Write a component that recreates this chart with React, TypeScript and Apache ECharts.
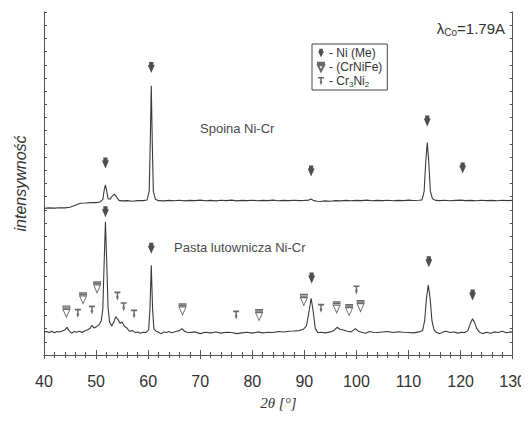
import React, { useEffect, useRef } from "react";
import * as echarts from "echarts";

// 2θ [°] vs intensity (offset units)
const spoinaData: [number, number][] = [
  [40, 11.12], [41, 11.15], [42, 11.13], [43, 11.16], [44, 11.15], [45, 11.2], [46, 11.35], [47, 11.5],
  [48, 11.52], [49, 11.55], [50, 11.55], [50.8, 11.6], [51.3, 11.8], [51.6, 12.6], [51.8, 12.9], [52.0, 12.5],
  [52.3, 11.85], [52.7, 11.8], [53.1, 12.05], [53.5, 12.2], [53.9, 12.0], [54.4, 11.72], [55, 11.68], [56, 11.7],
  [57, 11.66], [58, 11.7], [59, 11.7], [59.8, 11.75], [60.2, 12.4], [60.4, 16], [60.6, 20.4], [60.8, 16],
  [61.0, 12.4], [61.4, 11.8], [62, 11.7], [63, 11.68], [64, 11.72], [65, 11.69], [66, 11.73], [67, 11.68],
  [68, 11.72], [69, 11.7], [70, 11.74], [71, 11.69], [72, 11.72], [73, 11.68], [74, 11.73], [75, 11.7],
  [76, 11.74], [77, 11.68], [78, 11.72], [79, 11.7], [80, 11.73], [81, 11.69], [82, 11.72], [83, 11.7],
  [84, 11.74], [85, 11.69], [86, 11.72], [87, 11.7], [88, 11.73], [89, 11.7], [90, 11.72], [90.8, 11.74],
  [91.3, 11.82], [91.8, 11.7], [92.5, 11.66], [93, 11.64], [94, 11.68], [95, 11.66], [96, 11.7], [97, 11.68],
  [98, 11.72], [99, 11.69], [100, 11.72], [101, 11.7], [102, 11.74], [103, 11.69], [104, 11.72], [105, 11.7],
  [106, 11.73], [107, 11.69], [108, 11.72], [109, 11.7], [110, 11.74], [111, 11.71], [112, 11.73], [112.6, 11.76],
  [113.0, 12.4], [113.3, 14.6], [113.6, 16.1], [113.9, 14.6], [114.2, 12.4], [114.6, 11.85], [115.2, 11.72],
  [116, 11.7], [117, 11.73], [118, 11.69], [119, 11.72], [120, 11.74], [121, 11.7], [122, 11.72], [123, 11.69],
  [124, 11.73], [125, 11.7], [126, 11.72], [127, 11.69], [128, 11.73], [129, 11.7], [130, 11.72],
];

const pastaData: [number, number][] = [
  [40, 1.72], [40.5, 1.78], [41, 1.7], [41.5, 1.8], [42, 1.68], [42.5, 1.78], [43, 1.74], [43.5, 1.82],
  [44, 1.9], [44.4, 2.1], [44.8, 1.85], [45.3, 1.65], [45.8, 1.78], [46.3, 1.72], [46.8, 1.8], [47.3, 1.7],
  [47.8, 1.82], [48.3, 1.9], [48.8, 2.0], [49.2, 2.25], [49.6, 2.05], [50.1, 2.15], [50.6, 2.3], [51.0, 2.6],
  [51.3, 3.5], [51.55, 7], [51.8, 10.1], [52.05, 7], [52.3, 3.6], [52.6, 2.5], [53.0, 2.2], [53.4, 2.5],
  [53.8, 2.9], [54.2, 2.7], [54.6, 2.4], [55.0, 2.5], [55.4, 2.2], [55.9, 2.05], [56.4, 1.8], [57.0, 1.85],
  [57.5, 1.7], [58.0, 1.75], [58.5, 1.65], [59.0, 1.72], [59.6, 1.7], [60.1, 1.9], [60.35, 3.5], [60.6, 6.8],
  [60.85, 3.5], [61.1, 2.0], [61.5, 1.8], [62, 1.72], [62.5, 1.6], [63, 1.75], [63.5, 1.7], [64, 1.78],
  [64.5, 1.68], [65, 1.75], [65.5, 1.8], [66, 1.85], [66.5, 2.0], [67, 1.8], [67.5, 1.72], [68, 1.7],
  [69, 1.75], [70, 1.62], [71, 1.72], [72, 1.68], [73, 1.74], [74, 1.66], [75, 1.72], [76, 1.7],
  [77, 1.62], [78, 1.68], [79, 1.72], [80, 1.66], [81, 1.75], [82, 1.68], [83, 1.72], [84, 1.7],
  [85, 1.78], [86, 1.74], [87, 1.8], [88, 1.82], [89, 1.85], [89.8, 1.95], [90.4, 2.2], [90.9, 3.3],
  [91.3, 4.3], [91.7, 3.3], [92.1, 2.0], [92.6, 1.7], [93.2, 1.72], [94, 1.68], [95, 1.75], [95.8, 1.9],
  [96.3, 2.1], [96.8, 1.95], [97.5, 1.9], [98.2, 1.8], [99, 1.75], [99.8, 2.0], [100.4, 1.8], [101, 1.72],
  [101.8, 1.65], [102.5, 1.78], [103.2, 1.72], [104, 1.7], [105, 1.74], [106, 1.78], [107, 1.7], [108, 1.76],
  [109, 1.72], [110, 1.7], [111, 1.68], [112, 1.75], [112.7, 1.85], [113.1, 2.6], [113.45, 4.3], [113.8, 5.3],
  [114.15, 4.3], [114.5, 2.6], [114.9, 1.9], [115.4, 1.7], [116, 1.62], [116.6, 1.75], [117.2, 1.8], [118, 1.7],
  [118.8, 1.74], [119.5, 1.66], [120.2, 1.72], [120.8, 1.7], [121.4, 1.85], [121.9, 2.4], [122.3, 2.75],
  [122.7, 2.45], [123.1, 2.0], [123.6, 1.75], [124.2, 1.62], [125, 1.72], [125.8, 1.65], [126.5, 1.75],
  [127.2, 1.7], [128, 1.8], [128.8, 1.68], [129.5, 1.75], [130, 1.72],
];

// phase markers [2θ, y]
const niMarkers: [number, number][] = [
  [51.8, 14.56], [60.6, 21.8], [91.3, 13.95], [113.6, 17.74], [120.4, 14.18],
  [51.8, 10.86], [60.6, 8.1], [91.4, 5.84], [113.9, 7.07], [122.3, 4.55],
];
const crNiFeMarkers: [number, number][] = [
  [44.3, 3.28], [47.5, 4.3], [50.2, 5.13], [66.6, 3.46], [81.3, 3.03],
  [89.9, 4.17], [96.2, 3.61], [98.6, 3.41], [100.8, 3.71],
];
const cr3Ni2Markers: [number, number][] = [
  [46.5, 3.16], [49.2, 3.41], [54.1, 4.47], [55.3, 3.66], [57.3, 3.1],
  [76.9, 3.03], [93.2, 3.54], [100.0, 4.93],
];

const xTicks = { min: 40, max: 130, interval: 10 };
const legendNames = ["Ni (Me)", "(CrNiFe)", "Cr3Ni2"];

const NI_PATH = "path://M2,0 L8,0 L8,4 L10,4 L5,14 L0,4 L2,4 Z";
const CRNIFE_PATH = "path://M0,0 L10,0 L10,2 L0,2 Z M0,4 L10,4 L5,14 Z";
const CR3NI2_PATH = "path://M0,0 L8,0 L8,2 L5,2 L5,6 L6,6 L4,11 L2,6 L3,6 L3,2 L0,2 Z";

const FONT = "'Liberation Sans', Arial, sans-serif";
const INK = "#333";

export default function App() {
  const ref = useRef<HTMLDivElement>(null);
  useEffect(() => {
    if (!ref.current) return;
    const chart = echarts.init(ref.current, undefined, { renderer: "svg" });
    const axisCommon = {
      axisLine: { show: true, lineStyle: { color: "#555", width: 1 } },
      splitLine: { show: false },
    };
    chart.setOption({
      animation: false,
      backgroundColor: "#fff",
      textStyle: { fontFamily: FONT },
      grid: { left: 44, right: 15, top: 12, bottom: 66, containLabel: false },
      xAxis: [
        {
          type: "value",
          ...xTicks,
          ...axisCommon,
          position: "bottom",
          axisTick: { show: true, inside: true, length: 5, lineStyle: { color: "#555" } },
          minorTick: { show: true, splitNumber: 5, length: 3, lineStyle: { color: "#555" } },
          axisLabel: { color: INK, fontSize: 16, margin: 18, fontFamily: FONT },
          name: "2θ [°]",
          nameLocation: "middle",
          nameGap: 40,
          nameTextStyle: { fontStyle: "italic", fontSize: 15, color: INK, fontFamily: "'Liberation Serif', 'DejaVu Serif', serif" },
        },
        {
          type: "value",
          ...xTicks,
          ...axisCommon,
          position: "top",
          axisTick: { show: true, inside: true, length: 4, lineStyle: { color: "#555" } },
          minorTick: { show: true, splitNumber: 5, length: 3, lineStyle: { color: "#555" } },
          axisLabel: { show: false },
        },
      ],
      yAxis: [
        {
          type: "value",
          min: 0,
          max: 26,
          interval: 1,
          ...axisCommon,
          position: "left",
          axisTick: { show: true, inside: true, length: 3, lineStyle: { color: "#555" } },
          axisLabel: { show: false },
          name: "intensywność",
          nameLocation: "middle",
          nameGap: 16,
          nameTextStyle: { fontStyle: "italic", fontSize: 16, color: INK, fontFamily: FONT },
        },
        {
          type: "value",
          min: 0,
          max: 26,
          interval: 1,
          ...axisCommon,
          position: "right",
          axisTick: { show: true, inside: true, length: 3, lineStyle: { color: "#555" } },
          axisLabel: { show: false },
        },
      ],
      legend: {
        show: true,
        orient: "vertical",
        left: 312,
        top: 44,
        selectedMode: false,
        borderColor: "#444",
        borderWidth: 1,
        padding: [3, 5, 2, 5],
        itemGap: 2,
        itemWidth: 6,
        itemHeight: 10,
        data: [
          { name: legendNames[0], icon: NI_PATH },
          { name: legendNames[1], icon: CRNIFE_PATH },
          { name: legendNames[2], icon: CR3NI2_PATH },
        ],
        formatter: (name: string) =>
          name === "Cr3Ni2" ? "- Cr{sub|3}Ni{sub|2}" : "- " + name,
        textStyle: {
          fontSize: 12,
          color: INK,
          fontFamily: FONT,
          rich: { sub: { fontSize: 8, verticalAlign: "bottom", padding: [6, 0, 0, 0], color: INK } },
        },
      },
      graphic: [
        {
          type: "text",
          right: 24,
          top: 21,
          style: {
            text: "λ{sub|Co}=1.79A",
            fontSize: 15,
            fill: INK,
            fontFamily: FONT,
            rich: { sub: { fontSize: 10, verticalAlign: "bottom", padding: [8, 0, 0, 0], fill: INK } },
          },
        },
        {
          type: "text",
          left: 200,
          top: 122,
          style: { text: "Spoina Ni-Cr", fontSize: 13, fill: "#4a4a4a", fontFamily: FONT },
        },
        {
          type: "text",
          left: 174,
          top: 241,
          style: { text: "Pasta lutownicza Ni-Cr", fontSize: 13, fill: "#4a4a4a", fontFamily: FONT },
        },
      ],
      series: [
        {
          type: "line",
          name: "Spoina",
          data: spoinaData,
          showSymbol: false,
          lineStyle: { color: "#3a3a3a", width: 1.1 },
        },
        {
          type: "line",
          name: "Pasta",
          data: pastaData,
          showSymbol: false,
          lineStyle: { color: "#3a3a3a", width: 1.1 },
        },
        {
          type: "scatter",
          name: legendNames[0],
          data: niMarkers,
          symbol: NI_PATH,
          symbolSize: [7, 11],
          itemStyle: { color: "#222" },
        },
        {
          type: "scatter",
          name: legendNames[1],
          data: crNiFeMarkers,
          symbol: CRNIFE_PATH,
          symbolSize: [7, 11],
          itemStyle: { color: "#fff", borderColor: "#444", borderWidth: 1 },
        },
        {
          type: "scatter",
          name: legendNames[2],
          data: cr3Ni2Markers,
          symbol: CR3NI2_PATH,
          symbolSize: [6, 9],
          itemStyle: { color: "#444" },
        },
      ],
    });
    return () => chart.dispose();
  }, []);
  return <div ref={ref} style={{ width: 529, height: 421, margin: -8 }} />;
}
